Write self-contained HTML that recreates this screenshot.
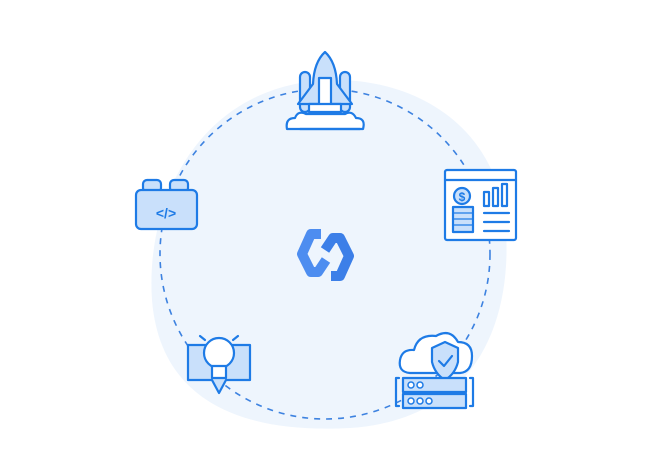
<!DOCTYPE html>
<html><head><style>html,body{margin:0;padding:0;background:#fff;width:650px;height:476px;overflow:hidden}</style></head>
<body>
<svg width="650" height="476" viewBox="0 0 650 476" xmlns="http://www.w3.org/2000/svg">
<path d="M330,80 C420,78 500,130 506,230 C512,330 470,420 350,428 C240,434 160,400 152,300 C145,200 200,84 330,80 Z" fill="#eef5fd"/>
<circle cx="325" cy="254" r="165" fill="none" stroke="#3d82e0" stroke-width="1.6" stroke-dasharray="6,6"/>
<g fill="none" stroke-width="10" stroke-linejoin="round">
<polyline points="321,234 311,234 302,254 311,272 318,272 326,260" stroke="#4d8df0"/>
<polyline points="331,276 340,276 349,256 340,238 333,238 325,250" stroke="#3c7fe8"/>
</g>
<g stroke="#1e7be6" stroke-width="2.2" fill="#c9e0fb" stroke-linejoin="round" stroke-linecap="round">
<g fill="#fff">
<path d="M287,129 Q285,118 295,118 Q298,110 306,114 L345,114 Q352,110 356,118 Q366,118 363,129 Z"/>
</g>
<rect x="300" y="72" width="10" height="40" rx="5"/>
<rect x="340" y="72" width="10" height="40" rx="5"/>
<path d="M325,52 Q336,62 337,84 L352,104 L298,104 L313,84 Q314,62 325,52 Z"/>
<path d="M319,78 L319,108 L331,108 L331,78 Z" fill="#fff"/>
<rect x="309" y="104" width="32" height="8" fill="#fff"/>
<line x1="300" y1="129" x2="360" y2="129"/>
<rect x="143" y="180" width="18" height="12" rx="4"/>
<rect x="170" y="180" width="18" height="12" rx="4"/>
<rect x="136" y="190" width="61" height="39" rx="5"/>
<text x="166" y="218" font-family="Liberation Sans,sans-serif" font-size="14" font-weight="bold" fill="#1e7be6" stroke="none" text-anchor="middle">&lt;/&gt;</text>
<rect x="445" y="170" width="71" height="70" fill="#fff" rx="2"/>
<line x1="445" y1="180" x2="516" y2="180"/>
<circle cx="462" cy="196" r="8"/>
<text x="462" y="201" font-family="Liberation Sans,sans-serif" font-size="12" font-weight="bold" fill="#1e7be6" stroke="none" text-anchor="middle">$</text>
<rect x="453" y="207" width="20" height="25" fill="#c9e0fb"/>
<g stroke-width="1.2"><line x1="453" y1="213" x2="473" y2="213"/><line x1="453" y1="219" x2="473" y2="219"/><line x1="453" y1="225" x2="473" y2="225"/></g>
<rect x="484" y="192" width="5" height="14" fill="#fff"/><rect x="493" y="188" width="5" height="18" fill="#fff"/><rect x="502" y="184" width="5" height="22" fill="#fff"/>
<line x1="484" y1="213" x2="509" y2="213"/><line x1="484" y1="222" x2="509" y2="222"/><line x1="484" y1="231" x2="509" y2="231"/>
<path d="M188,345 L250,345 L250,380 L226,380 L219,393 L212,380 L188,380 Z"/>
<circle cx="219" cy="353" r="15" fill="#fff"/>
<rect x="212" y="366" width="14" height="12" fill="#fff"/>
<line x1="200" y1="336" x2="205" y2="340"/><line x1="238" y1="336" x2="233" y2="340"/>
<path d="M410,373 Q398,372 400,360 Q402,349 414,350 Q418,334 436,336 Q450,328 458,342 Q472,342 472,356 Q472,372 460,373 Z" fill="#fff"/>
<path d="M432,348 L445,342 L458,348 L458,362 Q455,374 445,380 Q435,374 432,362 Z"/>
<polyline points="439,361 444,366 452,356" fill="none"/>
<rect x="403" y="378" width="63" height="14"/>
<rect x="403" y="394" width="63" height="14"/>
<g fill="#fff" stroke-width="1.5"><circle cx="411" cy="385" r="3"/><circle cx="420" cy="385" r="3"/><circle cx="411" cy="401" r="3"/><circle cx="420" cy="401" r="3"/><circle cx="429" cy="401" r="3"/></g>
<path d="M399,378 L396,378 L396,406 L399,406 M470,378 L473,378 L473,406 L470,406" fill="none"/>
</g>
</svg>
</body></html>
